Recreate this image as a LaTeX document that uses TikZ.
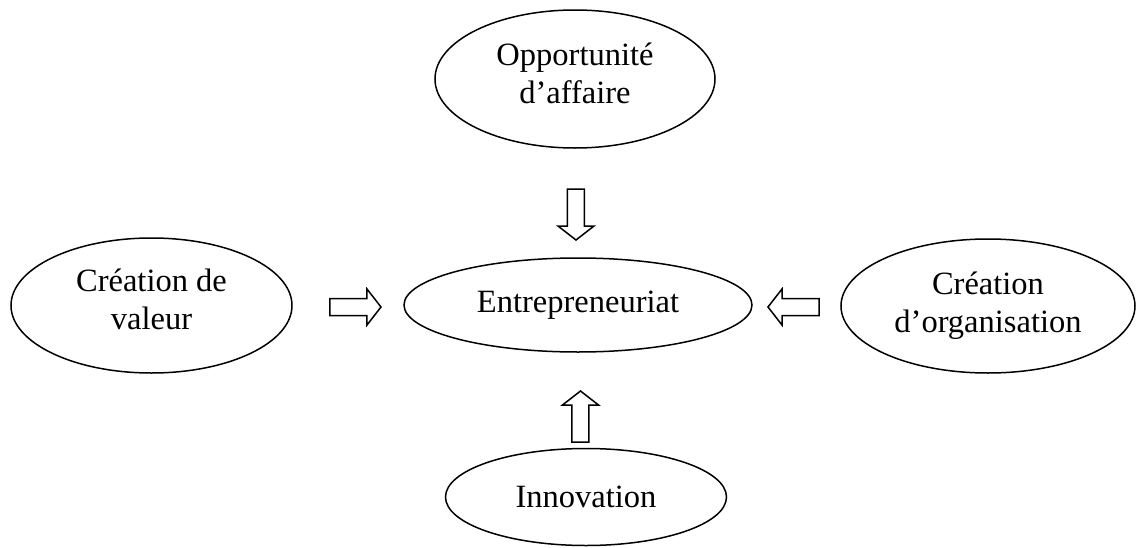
\documentclass[tikz,border=0pt]{standalone}
\usepackage{fontspec}
\setmainfont{Liberation Serif}
\usetikzlibrary{shapes.geometric}

% hollow block arrow: #1 = tail coordinate, #2 = direction
\newcommand{\fatarrow}[2]{%
  \draw[fat, shift={(#1)}, rotate=#2]
    (0,-8.5) -- (37,-8.5) -- (37,-18) -- (51,0) -- (37,18) -- (37,8.5) -- (0,8.5) -- cycle;}

\begin{document}
\begin{tikzpicture}
	[x=1pt, y=1pt,
	 bubble/.style={draw, ellipse, line width=1.5pt, inner sep=0pt, align=center,
	   font=\fontsize{32.5}{38}\selectfont},
	 fat/.style={draw, line width=1.5pt, line join=miter}]
   \useasboundingbox (-578,305) rectangle (558,-242);
   \node[bubble, minimum width=348pt, minimum height=94pt] (entre) at (0,0) {Entrepreneuriat};
   \node[bubble, minimum width=280pt, minimum height=138pt, text depth=12pt] (opport) at (-3,226) {Opportunité\\d'affaire};
   \node[bubble, minimum width=281pt, minimum height=135pt, text depth=12pt] (valeur) at (-426.5,-0.5) {Création de\\valeur};
   \node[bubble, minimum width=294pt, minimum height=134pt] (organ) at (410,-1) {Création\\d'organisation};
   \node[bubble, minimum width=281pt, minimum height=97pt] (innov) at (8,-192) {Innovation};
   % arrow tails
   \coordinate (t-opport) at (-2,116);
   \coordinate (t-innov) at (2.5,-137);
   \coordinate (t-valeur) at (-248,-2);
   \coordinate (t-organ) at (241,-2);
   \fatarrow{t-opport}{-90}
   \fatarrow{t-innov}{90}
   \fatarrow{t-valeur}{0}
   \fatarrow{t-organ}{180}
\end{tikzpicture}
\end{document}
